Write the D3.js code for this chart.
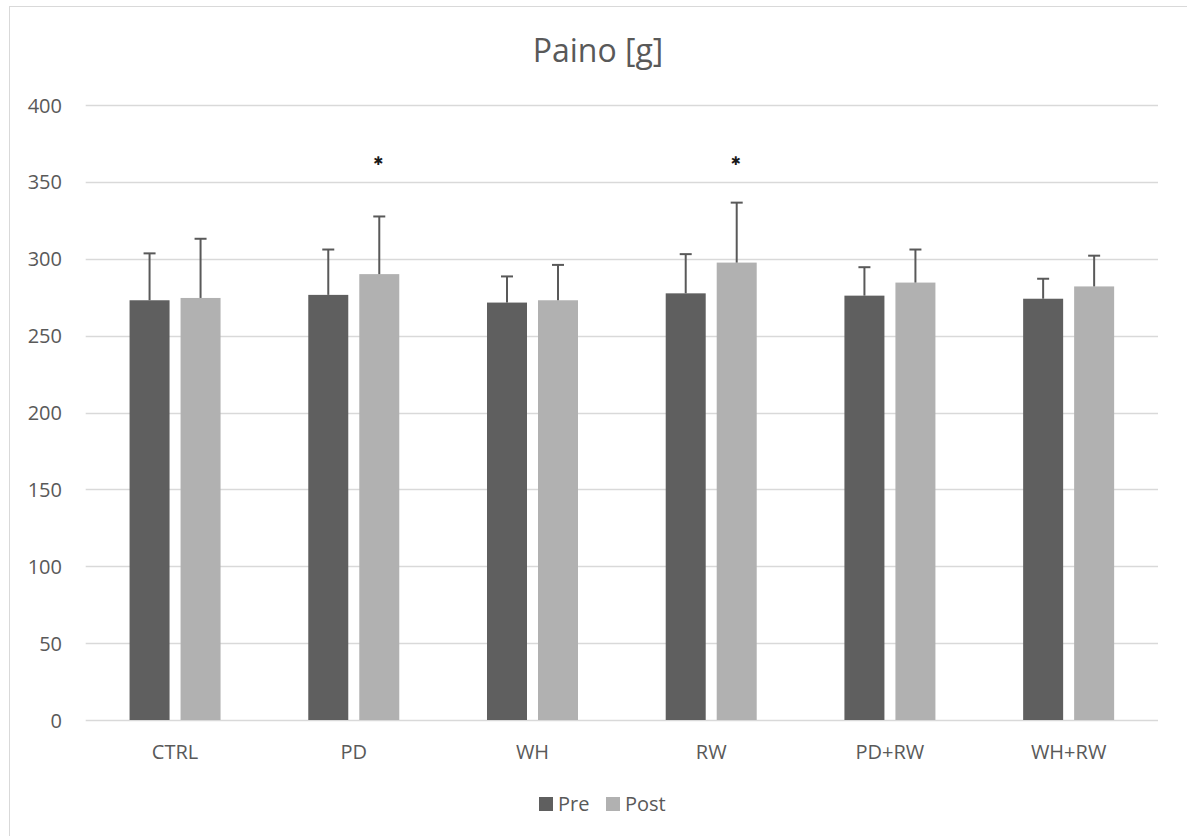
<!DOCTYPE html>
<html>
<head>
<meta charset="utf-8">
<script src="https://cdn.jsdelivr.net/npm/d3@7"></script>
<style>
  body { margin: 0; background: #fff; }
  svg text { font-family: "Open Sans", sans-serif; fill: #595959; }
</style>
</head>
<body>
<div id="chart"></div>
<script>
var categories = ["CTRL", "PD", "WH", "RW", "PD+RW", "WH+RW"];
var series = ["Pre", "Post"];
var preValues = [273, 276.5, 271.5, 277.5, 276, 274];
var postValues = [274.5, 290, 273, 297.5, 284.5, 282];
var preErr = [30.5, 29.5, 17, 25.5, 18.5, 13];
var postErr = [38.5, 37.5, 23, 39, 21.5, 20];
var postSignificant = [false, true, false, true, false, false];
var yTicks = [0, 50, 100, 150, 200, 250, 300, 350, 400];

var colors = { Pre: "#5f5f5f", Post: "#b1b1b1" };
var w = 1187, h = 836;
var margin = { left: 85.7, right: 1158, top: 105, bottom: 720 };

var svg = d3.select("#chart").append("svg")
	.attr("width", w)
	.attr("height", h);

// chart frame
svg.append("rect")
	.attr("x", 9.5).attr("y", 6.5)
	.attr("width", w + 10).attr("height", h + 10)
	.attr("fill", "#fff")
	.attr("stroke", "#d9d9d9");

var x0 = d3.scaleBand().domain(categories).range([margin.left, margin.right]);
var bw = x0.bandwidth();
var x1 = d3.scaleBand().domain(series)
	.range([bw * 0.2454, bw * 0.7546])
	.paddingInner(0.2157);
var y = d3.scaleLinear().domain([0, 400]).range([margin.bottom, margin.top]);

// gridlines
svg.append("g").selectAll("line")
	.data(yTicks)
	.enter().append("line")
	.attr("x1", margin.left).attr("x2", margin.right)
	.attr("y1", function(d) { return Math.round(y(d)) + 0.5; })
	.attr("y2", function(d) { return Math.round(y(d)) + 0.5; })
	.attr("stroke", "#d9d9d9")
	.attr("stroke-width", 1.3);

// y labels
var yAxis = svg.append("g")
	.attr("transform", "translate(62,0)")
	.call(d3.axisLeft(y).tickValues(yTicks).tickSize(0).tickPadding(0));
yAxis.select(".domain").remove();
yAxis.selectAll("text")
	.style("font-size", "20px")
	.attr("fill", "#595959")
	.attr("dy", "0.35em");

// x labels
var xAxis = svg.append("g")
	.attr("transform", "translate(0," + margin.bottom + ")")
	.call(d3.axisBottom(x0).tickSize(0).tickPadding(0));
xAxis.select(".domain").remove();
xAxis.selectAll("text")
	.style("font-size", "20px")
	.attr("fill", "#595959")
	.attr("y", 39)
	.attr("dy", 0);

var rows = categories.map(function(c, i) {
	return {
		cat: c,
		vals: [
			{ s: "Pre", v: preValues[i], e: preErr[i], sig: false },
			{ s: "Post", v: postValues[i], e: postErr[i], sig: postSignificant[i] }
		]
	};
});

var groups = svg.append("g").selectAll("g")
	.data(rows)
	.enter().append("g")
	.attr("transform", function(d) { return "translate(" + x0(d.cat) + ",0)"; });

var items = groups.selectAll("g")
	.data(function(d) { return d.vals; })
	.enter().append("g");

items.append("rect")
	.attr("x", function(d) { return x1(d.s); })
	.attr("y", function(d) { return y(d.v); })
	.attr("width", x1.bandwidth())
	.attr("height", function(d) { return y(0) - y(d.v); })
	.attr("fill", function(d) { return colors[d.s]; });

// error bars (upper only)
items.append("line")
	.attr("x1", function(d) { return x1(d.s) + x1.bandwidth() / 2; })
	.attr("x2", function(d) { return x1(d.s) + x1.bandwidth() / 2; })
	.attr("y1", function(d) { return y(d.v); })
	.attr("y2", function(d) { return y(d.v + d.e); })
	.attr("stroke", "#595959")
	.attr("stroke-width", 2);

items.append("line")
	.attr("x1", function(d) { return x1(d.s) + x1.bandwidth() / 2 - 6; })
	.attr("x2", function(d) { return x1(d.s) + x1.bandwidth() / 2 + 6; })
	.attr("y1", function(d) { return y(d.v + d.e); })
	.attr("y2", function(d) { return y(d.v + d.e); })
	.attr("stroke", "#595959")
	.attr("stroke-width", 2);

// significance markers
items.filter(function(d) { return d.sig; })
	.append("text")
	.attr("x", function(d) { return x1(d.s) + x1.bandwidth() / 2 - 1; })
	.attr("y", y(364))
	.attr("dy", "0.35em")
	.attr("text-anchor", "middle")
	.style("font-family", "DejaVu Sans")
	.style("font-size", "12px")
	.style("fill", "#1a1a1a")
	.text("\u2731");

// title
svg.append("text")
	.attr("x", 598)
	.attr("y", 62)
	.attr("text-anchor", "middle")
	.style("font-size", "32px")
	.text("Paino [g]");

// legend
var legend = svg.append("g").attr("transform", "translate(539,797)");
var li = legend.selectAll("g")
	.data(series)
	.enter().append("g")
	.attr("transform", function(d, i) { return "translate(" + (i * 67) + ",0)"; });
li.append("rect")
	.attr("width", 14).attr("height", 14)
	.attr("fill", function(d) { return colors[d]; });
li.append("text")
	.attr("x", 19)
	.attr("y", 14)
	.style("font-size", "20px")
	.text(function(d) { return d; });
</script>
</body>
</html>
